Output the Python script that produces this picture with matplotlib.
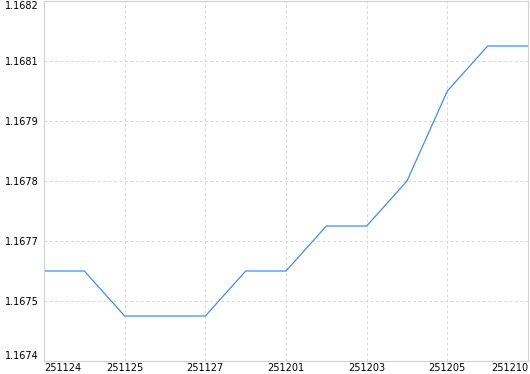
import numpy as np
import matplotlib
matplotlib.use("Agg")
import matplotlib.pyplot as plt

# data
dates = ['251124', '251124', '251125', '251125', '251127', '251128', '251201',
         '251202', '251203', '251204', '251205', '251208', '251210']
values = [1.1676, 1.1676, 1.1675, 1.1675, 1.1675, 1.1676, 1.1676,
          1.1677, 1.1677, 1.1678, 1.1680, 1.1681, 1.1681]
y_ticks = np.linspace(1.1674, 1.1682, 7)

plt.rcParams['font.family'] = ['DejaVu Sans']

fig = plt.figure(figsize=(5.3, 3.74), dpi=100)
ax = fig.add_axes([44 / 530, 13 / 374, 484 / 530, 360 / 374])

x = np.arange(len(values))
ax.plot(x, values, color='#468bee', linewidth=0.9)

ax.set_xlim(0, len(values) - 1)
ax.set_ylim(y_ticks[0], y_ticks[-1])

xt = x[::2]
ax.set_xticks(xt)
ax.set_xticklabels([dates[i] for i in xt])
ax.set_yticks(y_ticks)
ax.set_yticklabels(['%.4f' % v for v in y_ticks])

ax.tick_params(length=0, labelsize=7, colors='black')
ax.tick_params(axis='x', pad=1.5)
ax.tick_params(axis='y', pad=4)

xl = ax.get_xticklabels()
xl[0].set_ha('left')
xl[-1].set_ha('right')
yl = ax.get_yticklabels()
for t in yl[1:-1]:
    t.set_va('center_baseline')
yl[0].set_va('bottom')
yl[-1].set_va('top')

ax.grid(True, color='#d8d8d8', linestyle=(0, (3, 2.5)), linewidth=0.7)
for s in ax.spines.values():
    s.set_color('#d0d0d0')
    s.set_linewidth(0.8)

fig.savefig('out.png', dpi=100)
